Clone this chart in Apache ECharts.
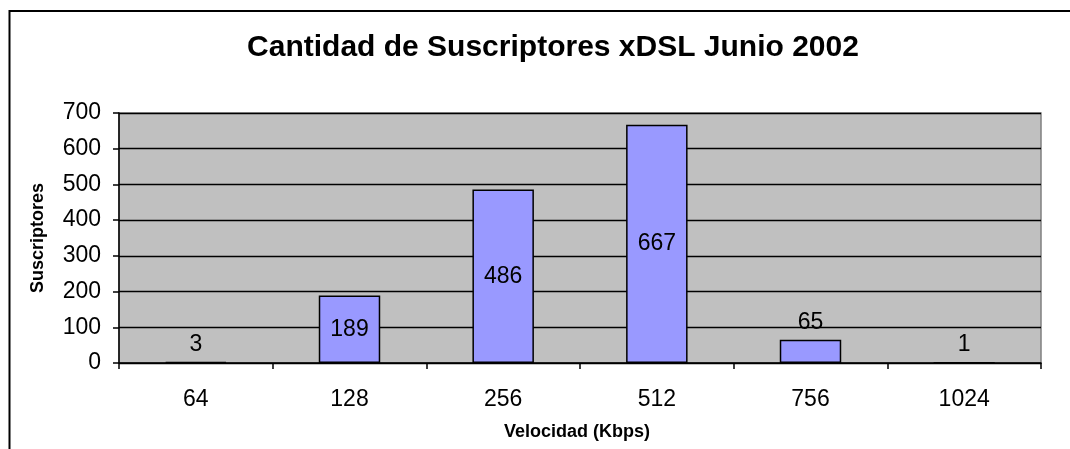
<!DOCTYPE html>
<html>
<head>
<meta charset="utf-8">
<title>Cantidad de Suscriptores xDSL Junio 2002</title>
<script src="https://cdn.jsdelivr.net/npm/echarts@6/dist/echarts.min.js"></script>
<style>
  html, body { margin: 0; padding: 0; background: #fff; }
  #main { width: 1070px; height: 449px; }
</style>
</head>
<body>
<div id="main"></div>
<script>
// datos del grafico
const velocidades = ['64', '128', '256', '512', '756', '1024'];
const suscriptores = [3, 189, 486, 667, 65, 1];
const yTicks = [0, 100, 200, 300, 400, 500, 600, 700];

const FONT = '"Liberation Sans", Arial, sans-serif';

// etiquetas dentro de la barra si cabe, si no encima
const barData = suscriptores.map(function (v) {
    return {
        value: v,
        label: { position: v > 100 ? 'inside' : 'top' }
    };
});

const myChart = echarts.init(document.getElementById('main'), null, { renderer: 'canvas' });
myChart.setOption({
    animation: false,
    backgroundColor: '#ffffff',
    title: {
        text: 'Cantidad de Suscriptores xDSL Junio 2002',
        left: 548,
        top: 28,
        textAlign: 'center',
        textStyle: { fontFamily: FONT, fontSize: 30, fontWeight: 'bold', color: '#000' }
    },
    graphic: [
        {
            type: 'rect',
            shape: { x: 9.5, y: 11, width: 1100, height: 500 },
            style: { fill: 'none', stroke: '#000', lineWidth: 2 },
            silent: true
        },
        {
            type: 'text',
            x: 577,
            y: 432,
            style: {
                text: 'Velocidad (Kbps)',
                font: 'bold 18px ' + FONT,
                fill: '#000',
                align: 'center',
                verticalAlign: 'middle'
            }
        }
    ],
    grid: {
        left: 119,
        right: 29,
        top: 113,
        bottom: 86,
        show: true,
        backgroundColor: '#C0C0C0',
        borderColor: '#808080',
        borderWidth: 1.5
    },
    xAxis: {
        type: 'category',
        data: velocidades,
        axisLine: { lineStyle: { color: '#000', width: 1.5 } },
        axisTick: { show: true, length: 6, lineStyle: { color: '#000', width: 1.5 } },
        axisLabel: { color: '#000', fontFamily: FONT, fontSize: 23, margin: 25 },
        splitLine: { show: false }
    },
    yAxis: {
        type: 'value',
        min: yTicks[0],
        max: yTicks[yTicks.length - 1],
        interval: 100,
        name: 'Suscriptores',
        nameLocation: 'middle',
        nameGap: 72,
        nameTextStyle: { color: '#000', fontFamily: FONT, fontSize: 18, fontWeight: 'bold' },
        axisLine: { show: true, lineStyle: { color: '#000', width: 1.5 } },
        axisTick: { show: true, length: 6, lineStyle: { color: '#000', width: 1.5 } },
        axisLabel: { color: '#000', fontFamily: FONT, fontSize: 23, margin: 18 },
        splitLine: { show: true, lineStyle: { color: '#000', width: 1.3 } }
    },
    series: [{
        type: 'bar',
        data: barData,
        barWidth: '40%',
        itemStyle: { color: '#9999FF', borderColor: '#000', borderWidth: 1.5 },
        label: {
            show: true,
            color: '#000',
            fontFamily: FONT,
            fontSize: 23,
            distance: 6
        }
    }]
});
</script>
</body>
</html>
